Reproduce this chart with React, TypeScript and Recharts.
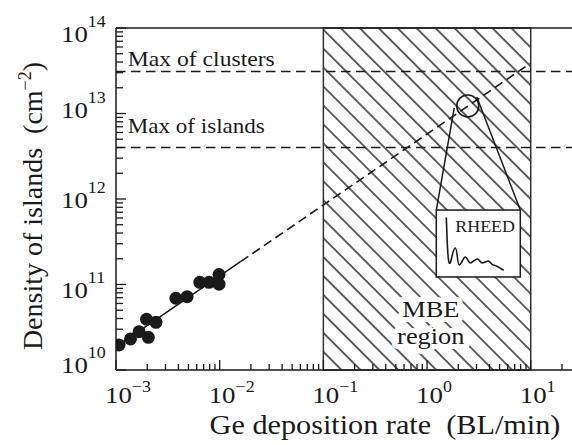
import React from 'react';
import {
  ComposedChart,
  XAxis,
  YAxis,
  Line,
  Scatter,
  ReferenceArea,
  ReferenceLine,
  ReferenceDot,
} from 'recharts';

const FONT = '"Liberation Serif", "Times New Roman", Times, serif';
const INK = '#1a1a1a';
const HATCH = '#3c3c3c';

// ---- data ----
const depositionRate = [1.07e-3, 1.38e-3, 1.67e-3, 2.05e-3, 1.97e-3, 2.43e-3, 3.78e-3, 4.85e-3, 6.43e-3, 7.9e-3, 9.85e-3, 9.85e-3];
const islandDensity = [1.96e10, 2.31e10, 2.81e10, 2.41e10, 3.92e10, 3.61e10, 6.9e10, 7.2e10, 1.06e11, 1.06e11, 1.31e11, 1.01e11];

const fitSolidX = [1.07e-3, 0.016];
const fitSolidY = [1.97e10, 1.86e11];
const fitDashedX = [0.016, 10];
const fitDashedY = [1.86e11, 3.89e13];

const maxClusters = 3.1e13;
const maxIslands = 4.0e12;
const maxLabelX = 1.3e-3;

const mbeRange = [0.1, 10];
const xDomain = [1e-3, 25];
const yDomain = [1e10, 1e14];
const xMajor = [1e-3, 1e-2, 1e-1, 1, 10];
const yMajor = [1e10, 1e11, 1e12, 1e13, 1e14];

// zoom circle + inset
const zoomCircle = { x: 2.47, y: 1.225e13 };
const insetX = [1.228, 7.93];
const insetY = [1.225e11, 7.43e11];
const tangentLeft = [{ x: 1.83, y: 1.16e13 }, { x: 1.228, y: 7.43e11 }];
const tangentRight = [{ x: 3.02, y: 1.56e13 }, { x: 7.93, y: 7.43e11 }];
const mbeLabelAt = { x: 1.087, y: 4.17e10 };

const points = depositionRate.map((x, i) => ({ x, y: islandDensity[i] }));
const fitSolid = fitSolidX.map((x, i) => ({ x, y: fitSolidY[i] }));
const fitDashed = fitDashedX.map((x, i) => ({ x, y: fitDashedY[i] }));

const withMinors = (majors: number[], extra: number[] = []) => {
  const out: number[] = [];
  majors.forEach((m, i) => {
    out.push(m);
    if (i < majors.length - 1) for (let k = 2; k <= 9; k++) out.push(m * k);
  });
  return out.concat(extra);
};
const xTicks = withMinors(xMajor, [20]);
const yTicks = withMinors(yMajor);

// layout
const W = 572;
const H = 445;
const LEFT = 116;
const TOP = 28;
const XAXIS_H = 75;
const BOTTOM = H - XAXIS_H;
// baseline shift of y tick labels (per decade), as placed in the original figure
const yLabelShift: Record<number, number> = { 14: 14, 13: 4.5, 12: 9, 11: 13.5, 10: 3 };

const isMajor = (v: number) => {
  const e = Math.round(Math.log10(v));
  return Math.abs(Math.log10(v) - e) < 1e-6;
};
const expText = (v: number) => {
  const e = Math.round(Math.log10(v));
  return e < 0 ? `\u2212${-e}` : `${e}`;
};

const XTick = (props: any) => {
  const { x, payload } = props;
  const v = payload.value;
  const major = isMajor(v);
  return (
    <g>
      <line x1={x} x2={x} y1={BOTTOM} y2={BOTTOM - (major ? 10 : 6)} stroke={INK} strokeWidth={1.3} />
      {major && (
        <g transform={`translate(${x - 11},${403}) scale(1.12,1)`}>
          <text x={0} y={0} fontFamily={FONT} fontSize={24} fill={INK}>
            10
            <tspan dy={-11} fontSize={16}>{expText(v)}</tspan>
          </text>
        </g>
      )}
    </g>
  );
};

const YTick = (props: any) => {
  const { y, payload } = props;
  const v = payload.value;
  const major = isMajor(v);
  const e = Math.round(Math.log10(v));
  return (
    <g>
      <line x1={LEFT} x2={LEFT + (major ? 10 : 7)} y1={y} y2={y} stroke={INK} strokeWidth={1.3} />
      {major && (
        <g transform={`translate(${61},${y + (yLabelShift[e] ?? 8)}) scale(1.12,1)`}>
          <text x={0} y={0} fontFamily={FONT} fontSize={24} fill={INK}>
            10
            <tspan dy={-15} fontSize={16}>{expText(v)}</tspan>
          </text>
        </g>
      )}
    </g>
  );
};

const XTitle = () => (
  <g transform={`translate(${385},${434}) scale(1.08,1)`}>
    <text x={0} y={0} textAnchor="middle" fontFamily={FONT} fontSize={28} fill={INK}>
      Ge deposition rate{'\u00a0\u00a0'}(BL/min)
    </text>
  </g>
);

const YTitle = () => (
  <g transform={`translate(${42},${206}) rotate(-90)`}>
    <text x={0} y={0} textAnchor="middle" fontFamily={FONT} fontSize={28} fill={INK}>
      Density of islands{'\u00a0\u00a0'}(cm
      <tspan dy={-11} fontSize={18}>{'\u22122'}</tspan>
      <tspan dy={11}>)</tspan>
    </text>
  </g>
);

const DotLabel = (props: any) => {
  const { cx, cy, text, gap, len } = props;
  return (
    <text
      x={cx}
      y={cy - gap}
      fontFamily={FONT}
      fontSize={21}
      fill={INK}
      textLength={len}
      lengthAdjust="spacingAndGlyphs"
    >
      {text}
    </text>
  );
};

const MbeLabel = (props: any) => {
  const { cx, cy } = props;
  const common = {
    textAnchor: 'middle' as const,
    fontFamily: FONT,
    fontSize: 24,
    fill: INK,
    stroke: '#fff',
    strokeWidth: 10,
    strokeLinejoin: 'round' as const,
    paintOrder: 'stroke',
  };
  return (
    <g>
      <g transform={`translate(${cx},${cy}) scale(1.1,1)`}>
        <text x={0} y={0} {...common}>MBE</text>
      </g>
      <g transform={`translate(${cx},${cy + 27}) scale(1.1,1)`}>
        <text x={0} y={0} {...common}>region</text>
      </g>
    </g>
  );
};

const RheedBox = (props: any) => {
  const { x, y, width, height } = props;
  const sx = width / 84;
  const sy = height / 67;
  const P = (a: number, b: number) => `${x + a * sx},${y + b * sy}`;
  const d =
    `M${P(10, 8)} C${P(11, 30)} ${P(11, 50)} ${P(13, 53)} ` +
    `C${P(15, 56)} ${P(16, 38)} ${P(19, 38)} ` +
    `C${P(21, 38)} ${P(21, 55)} ${P(23, 55)} ` +
    `C${P(25, 55)} ${P(27, 47)} ${P(29, 47)} ` +
    `C${P(31, 47)} ${P(32, 53)} ${P(34, 53)} ` +
    `C${P(36, 53)} ${P(39, 49)} ${P(41, 49)} ` +
    `C${P(43, 49)} ${P(44, 53)} ${P(46, 53)} ` +
    `C${P(48, 53)} ${P(50, 51)} ${P(52, 51)} ` +
    `C${P(54, 51)} ${P(55, 55)} ${P(57, 55)} ` +
    `C${P(60, 55)} ${P(63, 58)} ${P(67, 60)}`;
  return (
    <g>
      <rect x={x} y={y} width={width} height={height} fill="#fff" stroke={INK} strokeWidth={1.5} />
      <path d={d} fill="none" stroke={INK} strokeWidth={1.6} strokeLinejoin="round" strokeLinecap="round" />
      <g transform={`translate(${x + 19},${y + 22}) scale(1.12,1)`}>
        <text x={0} y={0} fontFamily={FONT} fontSize={16} fill={INK}>RHEED</text>
      </g>
    </g>
  );
};

export default function App() {
  return (
    <div style={{ position: 'absolute', left: 0, top: 0, width: W, height: H, background: '#fff' }}>
      <ComposedChart width={W} height={H} margin={{ top: TOP, right: 0, bottom: 0, left: 0 }}>
        <defs>
          <pattern id="hatch" patternUnits="userSpaceOnUse" width={13.4} height={13.4} patternTransform="rotate(-45)">
            <line x1={6.7} y1={-1} x2={6.7} y2={14.4} stroke={HATCH} strokeWidth={1.6} />
          </pattern>
        </defs>
        <XAxis
          dataKey="x"
          type="number"
          scale="log"
          domain={xDomain}
          allowDataOverflow
          ticks={xTicks}
          interval={0}
          tick={<XTick />}
          tickLine={false}
          axisLine={{ stroke: INK, strokeWidth: 1.5 }}
          height={XAXIS_H}
          label={<XTitle />}
        />
        <YAxis
          type="number"
          scale="log"
          domain={yDomain}
          allowDataOverflow
          ticks={yTicks}
          interval={0}
          tick={<YTick />}
          tickLine={false}
          axisLine={{ stroke: INK, strokeWidth: 1.5 }}
          width={LEFT}
          label={<YTitle />}
        />
        <ReferenceArea
          x1={mbeRange[0]}
          x2={mbeRange[1]}
          y1={yDomain[0]}
          y2={yDomain[1]}
          fill="url(#hatch)"
          fillOpacity={1}
          stroke="#333"
          strokeWidth={1.5}
        />
        <ReferenceLine y={yDomain[1]} stroke={INK} strokeWidth={1.5} />
        <ReferenceLine y={maxClusters} stroke={INK} strokeWidth={1.6} strokeDasharray="9.5 5.5" />
        <ReferenceLine y={maxIslands} stroke={INK} strokeWidth={1.6} strokeDasharray="9.5 5.5" />
        <ReferenceDot x={maxLabelX} y={maxClusters} r={1} shape={<DotLabel text="Max of clusters" gap={5} len={147} />} />
        <ReferenceDot x={maxLabelX} y={maxIslands} r={1} shape={<DotLabel text="Max of islands" gap={15} len={137} />} />
        <ReferenceDot x={mbeLabelAt.x} y={mbeLabelAt.y} r={1} shape={<MbeLabel />} />
        <ReferenceLine segment={tangentLeft} stroke={INK} strokeWidth={1.5} />
        <ReferenceLine segment={tangentRight} stroke={INK} strokeWidth={1.5} />
        <ReferenceArea x1={insetX[0]} x2={insetX[1]} y1={insetY[0]} y2={insetY[1]} shape={<RheedBox />} />
        <ReferenceDot
          x={zoomCircle.x}
          y={zoomCircle.y}
          r={11}
          fill="none"
          fillOpacity={0}
          stroke={INK}
          strokeWidth={1.6}
        />
        <Line data={fitSolid} dataKey="y" type="linear" stroke={INK} strokeWidth={1.6} dot={false} isAnimationActive={false} />
        <Line
          data={fitDashed}
          dataKey="y"
          type="linear"
          stroke={INK}
          strokeWidth={1.6}
          strokeDasharray="9 5"
          dot={false}
          isAnimationActive={false}
        />
        <Scatter
          data={points}
          dataKey="y"
          fill={INK}
          isAnimationActive={false}
          shape={(p: any) => <circle cx={p.cx} cy={p.cy} r={6.5} fill={INK} />}
        />
      </ComposedChart>
    </div>
  );
}
